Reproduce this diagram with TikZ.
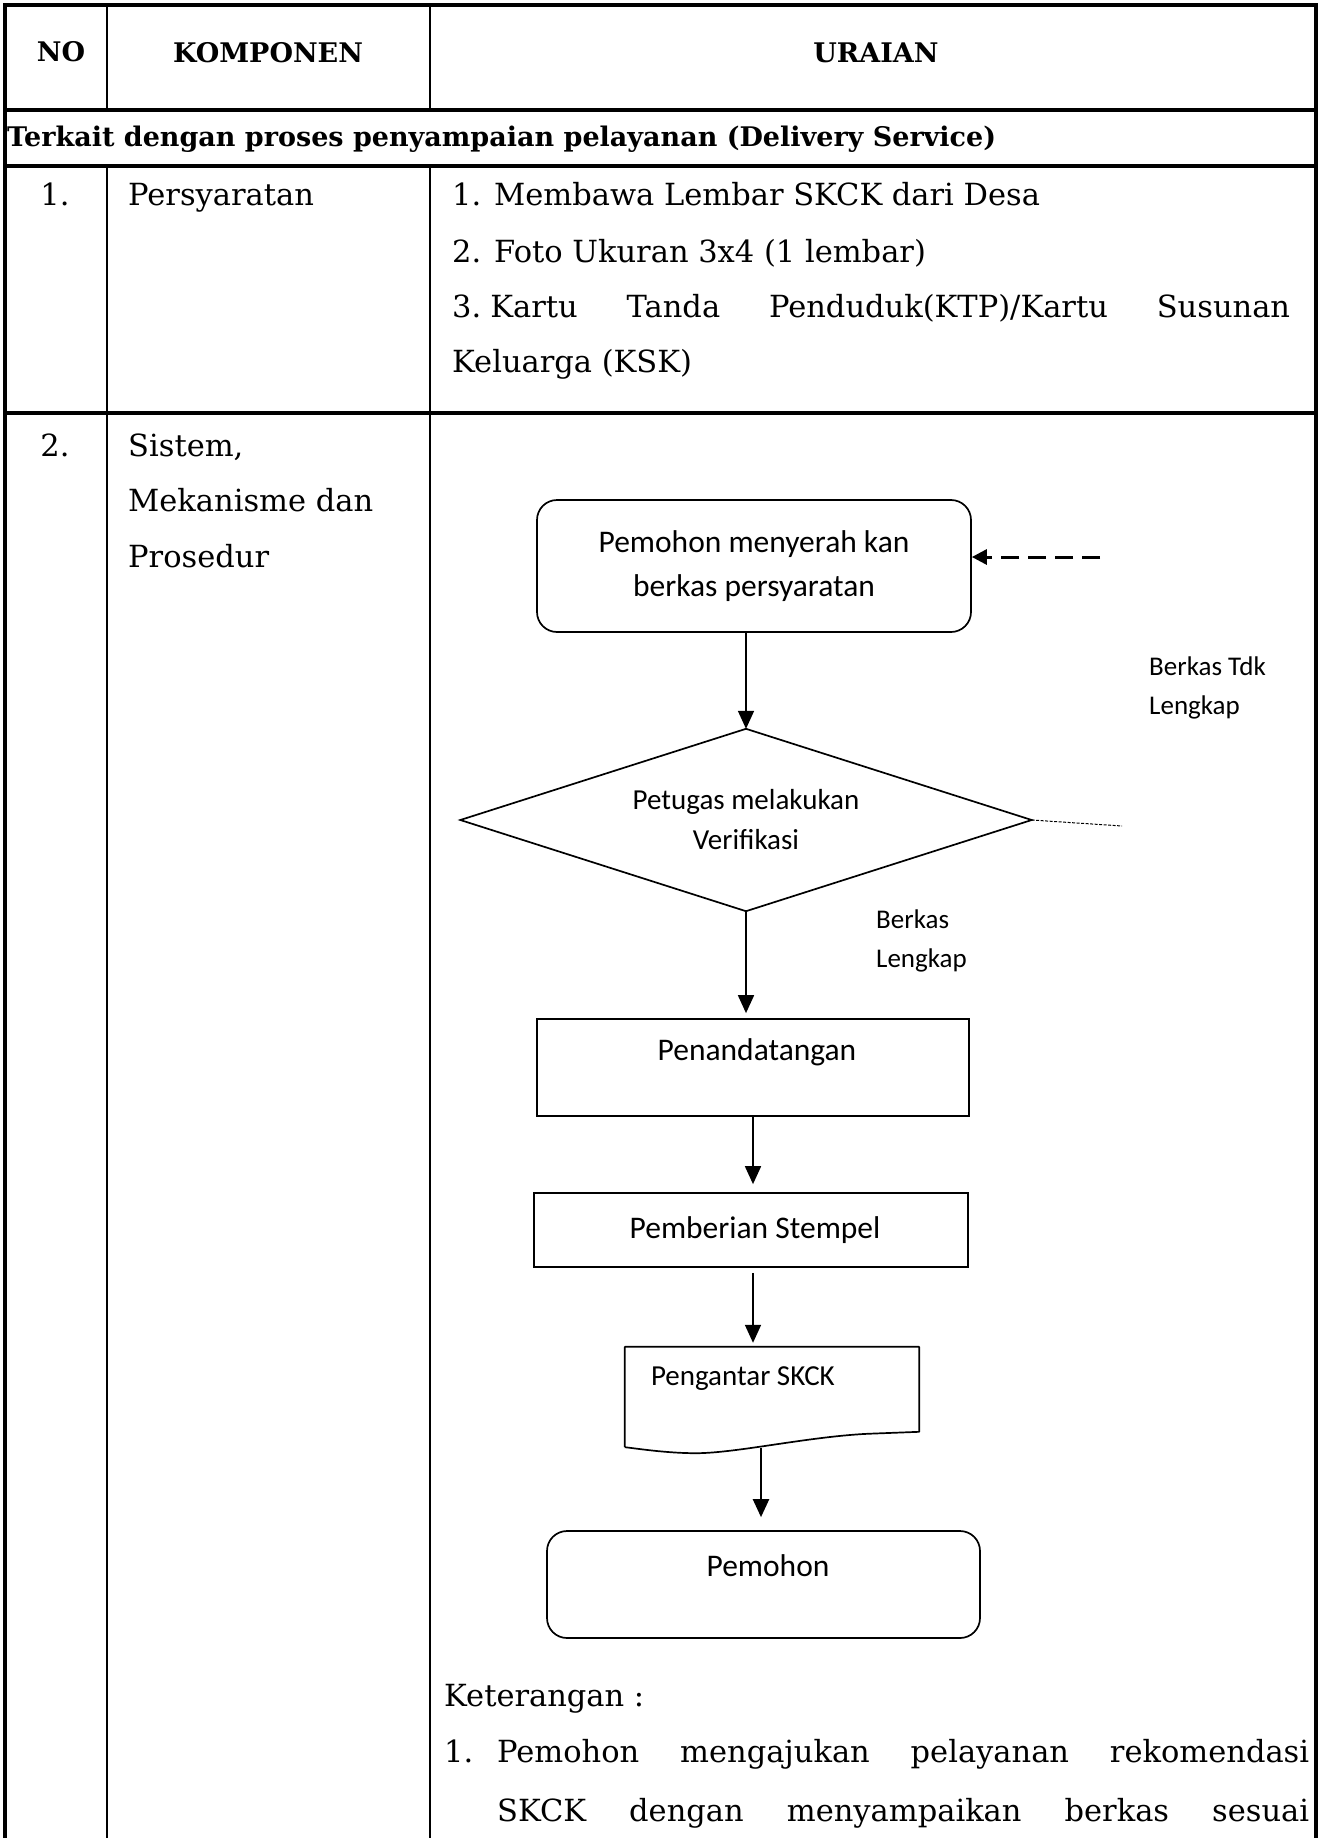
\documentclass[tikz,border=0pt]{standalone}
\usepackage{fontspec}
\setmainfont{DejaVu Serif}
\newfontfamily\flowfont{Carlito}
\usetikzlibrary{shapes.geometric,arrows.meta,calc}

\begin{document}
\begin{tikzpicture}[x=1pt,y=-1pt,
  rule/.style={line width=3.2pt},
  inrule/.style={line width=2.6pt},
  cell/.style={inner sep=0pt, anchor=base west, font=\fontsize{30.5}{36}\selectfont},
  headtxt/.style={inner sep=0pt, anchor=base, font=\fontsize{27}{32}\selectfont\bfseries},
  box/.style={draw, line width=1.7pt, inner sep=0pt},
  ftxt/.style={inner sep=0pt, font=\flowfont\fontsize{31.5}{44}\selectfont},
  stxt/.style={inner sep=0pt, font=\flowfont\fontsize{29}{40}\selectfont},
  note/.style={inner sep=0pt, anchor=west, align=left, font=\flowfont\fontsize{27}{38.5}\selectfont},
  arr/.style={line width=1.7pt, -{Triangle[width=16pt,length=18pt]}},
]
\useasboundingbox (0,0) rectangle (1320,1838);

% ---------- table grid ----------
\draw[rule] (5,1838) -- (5,5) -- (1316,5) -- (1316,1838);
\draw[rule] (5,110) -- (1316,110);
\draw[rule] (5,166) -- (1316,166);
\draw[rule] (5,413) -- (1316,413);
\draw[inrule] (107,5) -- (107,110) (107,166) -- (107,1838);
\draw[inrule] (430,5) -- (430,110) (430,166) -- (430,1838);

% ---------- header ----------
\node[headtxt] (hno)   at (61,62)  {NO};
\node[headtxt] (hkomp) at (268,63) {KOMPONEN};
\node[headtxt] (hurai) at (876,63) {URAIAN};
\node[headtxt, anchor=base west] (sect) at (7,147)
  {Terkait dengan proses penyampaian pelayanan (Delivery Service)};

% ---------- row 1 ----------
\node[cell, anchor=base] (n1) at (55,206) {1.};
\node[cell] (k1) at (128,206) {Persyaratan};
\node[cell] (u1a) at (452,206) {1. Membawa Lembar SKCK dari Desa};
\node[cell] (u1b) at (452,262) {2. Foto Ukuran 3x4 (1 lembar)};
\node[cell] (u1c) at (452,317)
  {\makebox[838pt][s]{3.\kern9pt Kartu Tanda Penduduk(KTP)/Kartu Susunan}};
\node[cell] (u1d) at (452,372) {Keluarga (KSK)};

% ---------- row 2 ----------
\node[cell, anchor=base] (n2) at (55,456) {2.};
\node[cell] (k2a) at (128,456) {Sistem,};
\node[cell] (k2b) at (128,511) {Mekanisme dan};
\node[cell] (k2c) at (128,567) {Prosedur};

% ---------- flowchart ----------
\node[box, rounded corners=20pt, minimum width=434pt, minimum height=132pt,
      align=center, ftxt] (start) at (754,566)
  {Pemohon menyerah kan\\berkas persyaratan};
\coordinate (back) at (1100,557);
\draw[line width=3pt, dash pattern=on 18pt off 9pt,
      -{Triangle[width=15pt,length=15pt]}] (back) -- (back -| start.east);

% decision: text node sized to the diamond, outline drawn through its anchors
\node[minimum width=571pt, minimum height=182pt, align=center, stxt] (verif) at (746,820)
  {Petugas melakukan\\Verifikasi};
\draw[line width=1.7pt, line join=miter]
  (verif.north) -- (verif.east) -- (verif.south) -- (verif.west) -- cycle;
\coordinate (tdk) at (1122,826);
\draw[line width=1pt, dash pattern=on 3pt off 1.5pt] (verif.east) -- (tdk);

\node[note] (ltdk) at (1149,688) {Berkas Tdk\\Lengkap};
\node[note] (lok)  at (876,941)  {Berkas\\Lengkap};

\node[box, minimum width=432pt, minimum height=97pt,
      label={[name=pentxt, ftxt, anchor=base, xshift=4pt, yshift=-42pt]north:Penandatangan}]
  (pen) at (753,1067.5) {};
\node[box, minimum width=434pt, minimum height=74pt, ftxt] (stem) at (751,1230)
  {\kern8pt Pemberian Stempel};

% document symbol
\node[minimum width=294pt, minimum height=100pt, inner sep=0pt] (doc) at (772,1397) {};
\draw[line width=1.7pt, line join=round]
  (doc.south west) -- (doc.north west) -- (doc.north east)
  -- ($(doc.north east)+(0,85)$) -- ($(doc.north east)+(-52,87)$)
  .. controls +(-60,3) and +(40,0) .. ($(doc.south west)+(71,6)$)
  .. controls +(-30,0) and +(10,1) .. (doc.south west);
\node[stxt, anchor=base west] (doctxt) at ($(doc.north west)+(26,39)$) {Pengantar SKCK};
\coordinate (docout) at ($(doc.south)+(-11,1)$);

\node[box, rounded corners=20pt, minimum width=433pt, minimum height=107pt,
      label={[name=endtxt, ftxt, anchor=base, xshift=4.5pt, yshift=-46pt]north:Pemohon}]
  (fin) at (763.5,1584.5) {};

% connectors
\draw[arr] (start.south -| verif.north) -- (verif.north);
\draw[arr, shorten >=5pt] (verif.south) -- (verif.south |- pen.north);
\draw[arr, shorten >=8pt] (pen.south) -- (pen.south |- stem.north);
\draw[arr, shorten <=5pt, shorten >=4pt] (pen.south |- stem.south) -- (pen.south |- doc.north);
\draw[arr, line width=2.3pt, shorten >=13pt] (docout) -- (docout |- fin.north);

% ---------- explanation ----------
\node[cell] (ket) at (444,1706) {Keterangan :};
\node[cell] (e1n) at (444,1762) {1.};
\node[cell] (e1a) at (497,1762)
  {\makebox[812pt][s]{Pemohon mengajukan pelayanan rekomendasi}};
\node[cell] (e1b) at (497,1821)
  {\makebox[812pt][s]{SKCK dengan menyampaikan berkas sesuai}};
\end{tikzpicture}
\end{document}
